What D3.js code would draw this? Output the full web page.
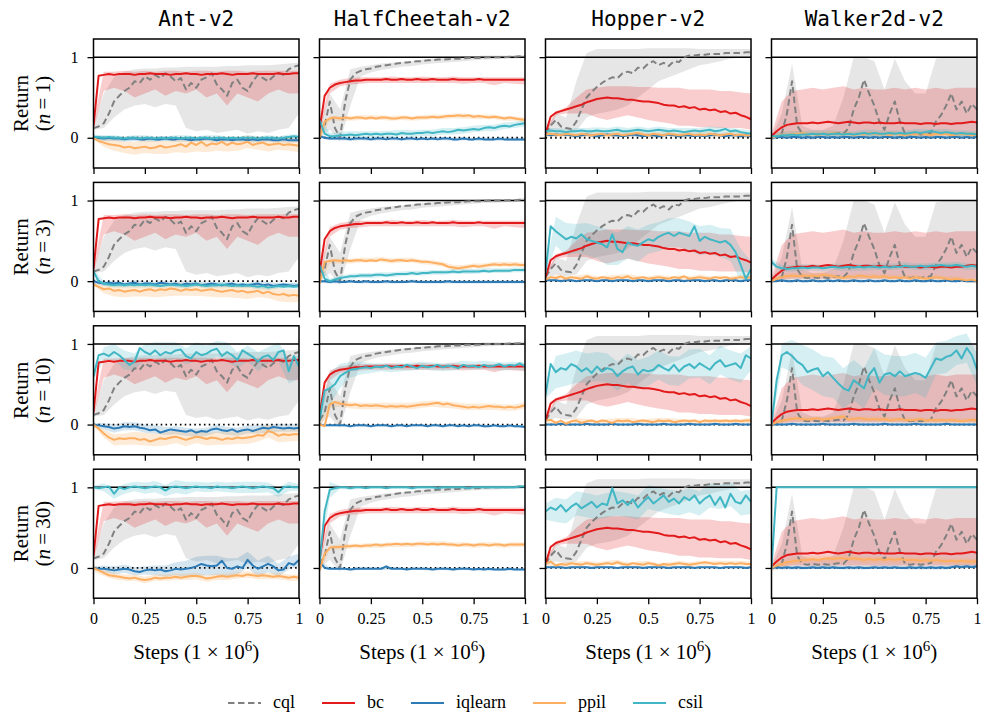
<!DOCTYPE html>
<html><head><meta charset="utf-8">
<script src="https://cdn.jsdelivr.net/npm/d3@7"></script>
<style>body{margin:0;background:#fff}svg{display:block}</style>
</head><body><svg id="c" width="982" height="718"></svg>
<script>
// ---------- categories ----------
const envs = ["Ant-v2","HalfCheetah-v2","Hopper-v2","Walker2d-v2"];
const demos = [1,3,10,30];
const methods = ["cql","bc","iqlearn","ppil","csil"];
const xTicks = [0,0.25,0.5,0.75,1];
const xTickLabels = ["0","0.25","0.5","0.75","1"];
const yTicks = [0,1];
const yTickLabels = ["0","1"];

// ---------- offline baselines (identical for every n) : mean (41 pts), band lo/hi (21 pts) ----------
const ant_cql=[0.12,0.14,0.18,0.3,0.45,0.52,0.58,0.62,0.7,0.68,0.76,0.72,0.78,0.74,0.8,0.76,0.7,0.74,0.6,0.68,0.62,0.72,0.75,0.8,0.66,0.6,0.52,0.68,0.72,0.62,0.58,0.7,0.78,0.74,0.7,0.76,0.8,0.78,0.85,0.88,0.9];
const ant_cql_lo=[0.1,0.12,0.25,0.35,0.4,0.42,0.38,0.42,0.4,0.12,0.08,0.1,0.06,0.08,0.1,0.05,0.08,0.06,0.1,0.12,0.3];
const ant_cql_hi=[0.15,0.55,0.75,0.82,0.85,0.86,0.86,0.87,0.87,0.88,0.88,0.88,0.88,0.89,0.89,0.9,0.9,0.9,0.91,0.92,0.93];
const ant_bc=[0.15,0.77,0.78,0.79,0.78,0.79,0.79,0.79,0.78,0.79,0.79,0.8,0.79,0.79,0.79,0.78,0.79,0.79,0.8,0.79,0.79,0.78,0.79,0.79,0.79,0.8,0.79,0.78,0.79,0.79,0.79,0.8,0.79,0.79,0.79,0.79,0.8,0.79,0.79,0.8,0.8];
const ant_bc_lo=[0.1,0.58,0.62,0.58,0.5,0.55,0.6,0.52,0.58,0.55,0.6,0.5,0.55,0.4,0.55,0.5,0.45,0.55,0.6,0.55,0.55];
const ant_bc_hi=[0.2,0.82,0.82,0.83,0.82,0.83,0.82,0.83,0.83,0.82,0.83,0.83,0.82,0.83,0.83,0.82,0.83,0.83,0.83,0.83,0.83];

const hc_cql=[0.05,0.15,0.45,0.12,0.0,0.45,0.72,0.8,0.83,0.85,0.86,0.88,0.89,0.9,0.91,0.92,0.93,0.935,0.94,0.95,0.95,0.96,0.96,0.97,0.97,0.975,0.98,0.98,0.985,0.99,0.99,0.99,0.995,1.0,1.0,1.0,1.0,1.005,1.005,1.01,1.01];
const hc_cql_lo=[0.0,0.1,-0.05,0.4,0.76,0.81,0.84,0.86,0.88,0.89,0.91,0.92,0.93,0.94,0.95,0.96,0.97,0.97,0.98,0.98,0.99];
const hc_cql_hi=[0.1,0.55,0.35,0.85,0.88,0.9,0.92,0.93,0.94,0.95,0.97,0.98,0.99,1.0,1.01,1.01,1.02,1.02,1.02,1.02,1.03];
const hc_bc=[0.1,0.52,0.62,0.66,0.68,0.69,0.7,0.71,0.71,0.72,0.72,0.72,0.72,0.73,0.72,0.72,0.73,0.72,0.72,0.73,0.72,0.72,0.73,0.72,0.72,0.72,0.73,0.72,0.72,0.72,0.72,0.73,0.72,0.72,0.72,0.72,0.72,0.72,0.72,0.72,0.72];
const hc_bc_lo=[0.05,0.55,0.64,0.66,0.67,0.68,0.68,0.68,0.68,0.68,0.68,0.68,0.68,0.68,0.67,0.68,0.68,0.65,0.68,0.67,0.66];
const hc_bc_hi=[0.15,0.67,0.72,0.74,0.75,0.75,0.75,0.76,0.75,0.75,0.76,0.75,0.75,0.76,0.75,0.75,0.75,0.75,0.75,0.75,0.75];

const hop_cql=[0.05,0.15,0.22,0.14,0.12,0.11,0.2,0.35,0.5,0.57,0.63,0.68,0.72,0.75,0.74,0.8,0.82,0.8,0.87,0.86,0.92,0.95,0.9,0.93,0.89,0.95,0.94,1.0,1.02,1.02,1.03,1.03,1.04,1.04,1.04,1.05,1.05,1.05,1.05,1.06,1.06];
const hop_cql_lo=[0.03,0.08,0.06,0.08,0.25,0.3,0.32,0.35,0.4,0.5,0.6,0.7,0.75,0.8,0.85,0.9,0.92,0.95,0.98,1.0,1.0];
const hop_cql_hi=[0.1,0.3,0.25,0.7,1.05,1.1,1.1,1.1,1.1,1.1,1.11,1.11,1.11,1.11,1.11,1.1,1.1,1.1,1.1,1.1,1.1];
const hop_bc=[0.05,0.26,0.31,0.33,0.35,0.37,0.39,0.41,0.44,0.46,0.48,0.49,0.5,0.49,0.49,0.48,0.47,0.47,0.46,0.45,0.45,0.44,0.43,0.41,0.4,0.4,0.38,0.39,0.37,0.38,0.35,0.36,0.34,0.35,0.32,0.33,0.3,0.31,0.28,0.26,0.23];
const hop_bc_lo=[0.03,0.28,0.3,0.3,0.3,0.25,0.22,0.25,0.28,0.25,0.22,0.2,0.18,0.15,0.15,0.13,0.13,0.12,0.12,0.12,0.1];
const hop_bc_hi=[0.07,0.33,0.38,0.5,0.6,0.62,0.64,0.64,0.64,0.63,0.63,0.62,0.62,0.62,0.6,0.6,0.6,0.58,0.58,0.56,0.55];

const wal_cql=[0.0,0.02,0.05,0.3,0.7,0.15,0.05,0.04,0.05,0.04,0.05,0.04,0.05,0.06,0.05,0.12,0.35,0.5,0.72,0.55,0.4,0.2,0.1,0.3,0.45,0.2,0.05,0.04,0.05,0.04,0.05,0.06,0.2,0.28,0.4,0.55,0.35,0.45,0.3,0.42,0.35];
const wal_cql_lo=[0,0,0,0,0,0,0,0,0,0,0,0,0,0,0,0,0,0,0,0,0];
const wal_cql_hi=[0.02,0.3,0.92,0.15,0.1,0.1,0.15,0.5,1.0,1.0,0.95,0.6,0.98,0.7,0.55,0.55,0.98,1.0,1.0,1.0,1.0];
const wal_bc=[0.02,0.08,0.13,0.16,0.17,0.18,0.18,0.18,0.19,0.18,0.19,0.2,0.19,0.18,0.19,0.2,0.19,0.18,0.19,0.19,0.18,0.19,0.18,0.18,0.18,0.19,0.18,0.18,0.18,0.17,0.18,0.18,0.17,0.18,0.18,0.17,0.18,0.18,0.19,0.2,0.19];
const wal_bc_lo=[0.0,0.02,0.03,0.03,0.03,0.03,0.03,0.03,0.03,0.03,0.03,0.03,0.03,0.03,0.03,0.03,0.03,0.03,0.03,0.03,0.03];
const wal_bc_hi=[0.05,0.45,0.58,0.6,0.62,0.6,0.62,0.64,0.6,0.62,0.6,0.6,0.62,0.6,0.62,0.6,0.62,0.6,0.62,0.62,0.62];

// ---------- band half-widths (21 pts) ----------
const w01=[0.01,0.01,0.01,0.01,0.01,0.01,0.01,0.01,0.01,0.01,0.01,0.01,0.01,0.01,0.01,0.01,0.01,0.01,0.01,0.01,0.01];
const w015=[0.015,0.015,0.015,0.015,0.015,0.015,0.015,0.015,0.015,0.015,0.015,0.015,0.015,0.015,0.015,0.015,0.015,0.015,0.015,0.015,0.015];
const w02=[0.02,0.02,0.02,0.02,0.02,0.02,0.02,0.02,0.02,0.02,0.02,0.02,0.02,0.02,0.02,0.02,0.02,0.02,0.02,0.02,0.02];
const w03=[0.03,0.03,0.03,0.03,0.03,0.03,0.03,0.03,0.03,0.03,0.03,0.03,0.03,0.03,0.03,0.03,0.03,0.03,0.03,0.03,0.03];
const w04=[0.04,0.04,0.04,0.04,0.04,0.04,0.04,0.04,0.04,0.04,0.04,0.04,0.04,0.04,0.04,0.04,0.04,0.04,0.04,0.04,0.04];
const wAntPpil=[0.02,0.05,0.07,0.07,0.08,0.08,0.08,0.08,0.08,0.08,0.08,0.08,0.08,0.08,0.08,0.08,0.08,0.08,0.08,0.08,0.08];

// ---------- n = 1 ----------
const ant1_iql=[0.0,0.0,-0.01,0.0,-0.01,-0.01,-0.02,-0.01,-0.01,-0.02,-0.02,-0.01,-0.02,-0.02,-0.01,-0.02,-0.02,-0.01,-0.02,-0.03,-0.02,-0.02,-0.01,-0.02,-0.03,-0.02,-0.02,-0.03,-0.02,-0.02,-0.03,-0.02,-0.03,-0.02,-0.02,-0.03,-0.03,-0.02,-0.03,-0.03,-0.03];
const ant1_csil=[0.01,0.01,0.0,0.01,0.0,0.0,-0.01,0.0,0.0,-0.01,0.0,0.0,-0.01,0.0,-0.01,0.0,0.0,-0.01,0.0,0.0,-0.01,0.0,0.0,-0.01,0.0,0.0,-0.01,0.0,-0.01,0.0,0.0,0.0,-0.01,0.0,0.0,0.0,-0.01,0.0,0.01,0.02,0.01];
const ant1_ppil=[0.0,-0.04,-0.06,-0.08,-0.09,-0.1,-0.12,-0.11,-0.13,-0.12,-0.11,-0.13,-0.12,-0.1,-0.12,-0.11,-0.1,-0.08,-0.11,-0.06,-0.09,-0.05,-0.1,-0.07,-0.08,-0.05,-0.09,-0.06,-0.08,-0.07,-0.05,-0.09,-0.07,-0.06,-0.09,-0.08,-0.07,-0.09,-0.08,-0.09,-0.1];
const hc1_iql=[0.02,0.0,-0.01,-0.01,-0.01,-0.01,-0.02,-0.01,-0.01,-0.01,-0.02,-0.01,-0.01,-0.02,-0.01,-0.01,-0.02,-0.01,-0.01,-0.02,-0.01,-0.02,-0.01,-0.02,-0.01,-0.01,-0.02,-0.02,-0.01,-0.02,-0.02,-0.01,-0.02,-0.02,-0.02,-0.01,-0.02,-0.02,-0.02,-0.02,-0.02];
const hc1_csil=[0.22,0.05,0.02,0.02,0.03,0.03,0.04,0.03,0.04,0.05,0.04,0.05,0.04,0.05,0.05,0.04,0.06,0.05,0.05,0.06,0.06,0.07,0.06,0.07,0.08,0.07,0.08,0.1,0.09,0.1,0.11,0.1,0.12,0.13,0.12,0.14,0.15,0.14,0.16,0.17,0.18];
const hc1_ppil=[0.0,0.2,0.24,0.25,0.24,0.25,0.24,0.25,0.25,0.24,0.25,0.24,0.25,0.25,0.24,0.24,0.25,0.25,0.24,0.25,0.25,0.25,0.26,0.25,0.26,0.27,0.27,0.28,0.27,0.28,0.26,0.27,0.26,0.25,0.26,0.25,0.24,0.25,0.24,0.23,0.22];
const hop1_iql=[0.04,0.03,0.04,0.03,0.04,0.03,0.02,0.03,0.04,0.03,0.02,0.03,0.04,0.03,0.03,0.02,0.03,0.04,0.03,0.02,0.03,0.03,0.02,0.03,0.04,0.03,0.02,0.03,0.03,0.02,0.03,0.02,0.03,0.04,0.03,0.02,0.03,0.03,0.02,0.03,0.02];
const hop1_ppil=[0.04,0.05,0.04,0.03,0.05,0.04,0.03,0.05,0.04,0.03,0.04,0.05,0.03,0.04,0.05,0.03,0.04,0.05,0.06,0.04,0.03,0.05,0.04,0.03,0.05,0.04,0.03,0.04,0.05,0.03,0.04,0.03,0.05,0.04,0.03,0.04,0.05,0.03,0.04,0.03,0.03];
const hop1_csil=[0.08,0.09,0.08,0.08,0.07,0.08,0.08,0.09,0.08,0.08,0.09,0.08,0.08,0.09,0.1,0.08,0.08,0.09,0.1,0.09,0.08,0.09,0.1,0.09,0.08,0.09,0.08,0.07,0.08,0.09,0.08,0.09,0.1,0.08,0.09,0.11,0.08,0.09,0.07,0.06,0.05];
const wal1_iql=[0.0,0.01,0.01,0.0,0.01,0.01,0.0,0.01,0.0,0.01,0.01,0.0,0.01,0.0,0.01,0.01,0.0,0.01,0.01,0.0,0.01,0.0,0.01,0.01,0.0,0.01,0.0,0.01,0.01,0.0,0.01,0.0,0.01,0.01,0.0,0.01,0.01,0.0,0.01,0.0,0.01];
const wal1_ppil=[0.0,0.02,0.04,0.03,0.05,0.04,0.06,0.04,0.05,0.03,0.05,0.04,0.06,0.05,0.04,0.06,0.03,0.05,0.04,0.06,0.05,0.04,0.05,0.03,0.05,0.04,0.03,0.05,0.04,0.06,0.04,0.03,0.05,0.04,0.05,0.03,0.04,0.05,0.04,0.03,0.04];
const wal1_csil=[0.02,0.02,0.03,0.03,0.04,0.03,0.04,0.04,0.05,0.04,0.05,0.04,0.05,0.05,0.04,0.05,0.04,0.05,0.06,0.05,0.06,0.05,0.05,0.06,0.05,0.06,0.05,0.06,0.07,0.06,0.07,0.08,0.07,0.06,0.07,0.06,0.05,0.06,0.05,0.05,0.04];

// ---------- n = 3 ----------
const ant3_iql=[0.0,-0.02,-0.03,-0.02,-0.03,-0.02,-0.04,-0.03,-0.02,-0.04,-0.03,-0.03,-0.04,-0.02,-0.03,-0.04,-0.03,-0.05,-0.03,-0.04,-0.03,-0.05,-0.04,-0.03,-0.04,-0.05,-0.04,-0.03,-0.05,-0.04,-0.05,-0.04,-0.03,-0.05,-0.04,-0.06,-0.05,-0.04,-0.05,-0.06,-0.05];
const ant3_csil=[0.12,0.0,-0.03,-0.04,-0.05,-0.04,-0.05,-0.04,-0.05,-0.04,-0.05,-0.04,-0.05,-0.06,-0.05,-0.04,-0.05,-0.05,-0.06,-0.05,-0.04,-0.05,-0.06,-0.05,-0.05,-0.04,-0.05,-0.06,-0.05,-0.06,-0.05,-0.06,-0.07,-0.06,-0.08,-0.07,-0.06,-0.07,-0.06,-0.07,-0.06];
const ant3_ppil=[-0.04,-0.07,-0.1,-0.09,-0.12,-0.11,-0.13,-0.12,-0.11,-0.13,-0.11,-0.1,-0.12,-0.1,-0.11,-0.09,-0.1,-0.12,-0.1,-0.11,-0.1,-0.12,-0.11,-0.1,-0.12,-0.13,-0.12,-0.11,-0.13,-0.12,-0.14,-0.13,-0.12,-0.15,-0.13,-0.16,-0.17,-0.16,-0.18,-0.17,-0.18];
const hc3_iql=[0.0,0.0,-0.01,0.0,-0.01,-0.01,0.0,-0.01,-0.01,0.0,-0.01,-0.01,-0.01,0.0,-0.01,-0.01,-0.01,-0.01,0.0,-0.01,-0.01,-0.01,-0.01,-0.01,-0.01,0.0,-0.01,-0.01,-0.01,-0.01,-0.01,-0.01,-0.01,-0.01,-0.01,-0.01,-0.01,-0.01,-0.01,-0.01,-0.01];
const hc3_csil=[0.2,0.03,0.0,0.02,0.04,0.05,0.06,0.06,0.07,0.07,0.07,0.08,0.08,0.07,0.08,0.09,0.09,0.09,0.1,0.09,0.1,0.1,0.11,0.11,0.11,0.11,0.12,0.11,0.12,0.12,0.12,0.12,0.13,0.12,0.13,0.13,0.13,0.13,0.14,0.14,0.14];
const hc3_ppil=[-0.03,0.24,0.25,0.26,0.25,0.26,0.25,0.26,0.26,0.25,0.26,0.25,0.27,0.26,0.25,0.26,0.26,0.25,0.26,0.25,0.24,0.24,0.23,0.22,0.21,0.18,0.17,0.16,0.17,0.18,0.19,0.18,0.19,0.2,0.21,0.2,0.21,0.2,0.21,0.2,0.2];
const hop3_iql=[0.01,0.01,0.01,0.0,0.01,0.01,0.0,0.01,0.01,0.01,0.0,0.01,0.01,0.0,0.01,0.01,0.01,0.0,0.01,0.01,0.0,0.01,0.01,0.01,0.0,0.01,0.01,0.0,0.01,0.01,0.01,0.0,0.01,0.01,0.0,0.01,0.01,0.01,0.0,0.01,0.01];
const hop3_ppil=[0.02,0.05,0.04,0.06,0.03,0.05,0.04,0.03,0.06,0.04,0.03,0.05,0.04,0.03,0.05,0.04,0.06,0.03,0.04,0.05,0.03,0.04,0.05,0.04,0.03,0.05,0.04,0.06,0.03,0.04,0.05,0.04,0.03,0.05,0.04,0.05,0.03,0.04,0.05,0.04,0.05];
const hop3_csil=[0.1,0.68,0.62,0.57,0.52,0.55,0.53,0.58,0.52,0.5,0.48,0.46,0.42,0.58,0.4,0.36,0.48,0.45,0.44,0.48,0.52,0.5,0.55,0.58,0.6,0.56,0.6,0.58,0.56,0.68,0.5,0.55,0.52,0.5,0.48,0.5,0.45,0.36,0.2,0.03,0.15];
const hop3_csil_w=[0.05,0.18,0.2,0.18,0.2,0.2,0.22,0.2,0.2,0.2,0.18,0.18,0.18,0.18,0.18,0.18,0.18,0.18,0.2,0.2,0.1];
const wal3_iql=[0.0,0.0,0.01,0.0,0.0,0.01,0.0,0.0,0.01,0.0,0.0,0.01,0.0,0.01,0.0,0.0,0.01,0.0,0.0,0.01,0.0,0.0,0.01,0.0,0.0,0.01,0.0,0.0,0.01,0.0,0.0,0.01,0.0,0.0,0.01,0.0,0.0,0.01,0.0,0.0,0.0];
const wal3_ppil=[0.0,0.03,0.05,0.06,0.07,0.06,0.07,0.06,0.07,0.06,0.08,0.07,0.06,0.05,0.04,0.06,0.05,0.07,0.06,0.05,0.06,0.05,0.06,0.04,0.05,0.04,0.05,0.03,0.05,0.04,0.03,0.04,0.05,0.04,0.03,0.02,0.03,0.02,0.01,0.02,0.0];
const wal3_csil=[0.24,0.18,0.16,0.15,0.16,0.16,0.17,0.16,0.17,0.17,0.16,0.17,0.18,0.17,0.17,0.18,0.17,0.18,0.17,0.18,0.18,0.17,0.18,0.17,0.18,0.18,0.19,0.18,0.18,0.19,0.18,0.19,0.19,0.2,0.19,0.19,0.2,0.19,0.18,0.19,0.18];

// ---------- n = 10 ----------
const ant10_iql=[0.0,-0.01,-0.02,-0.03,-0.05,-0.04,-0.02,-0.03,-0.02,-0.04,-0.05,-0.07,-0.06,-0.1,-0.08,-0.06,-0.07,-0.08,-0.09,-0.07,-0.1,-0.08,-0.09,-0.06,-0.05,-0.07,-0.08,-0.06,-0.09,-0.07,-0.06,-0.08,-0.06,-0.04,-0.05,-0.03,-0.04,-0.05,-0.04,-0.05,-0.04];
const ant10_ppil=[0.0,-0.05,-0.11,-0.16,-0.19,-0.17,-0.18,-0.17,-0.17,-0.19,-0.18,-0.21,-0.19,-0.17,-0.18,-0.16,-0.15,-0.17,-0.19,-0.17,-0.15,-0.16,-0.18,-0.16,-0.17,-0.19,-0.17,-0.18,-0.16,-0.17,-0.16,-0.15,-0.13,-0.14,-0.08,-0.1,-0.14,-0.12,-0.13,-0.12,-0.12];
const ant10_csil=[0.6,0.86,0.88,0.85,0.9,0.86,0.8,0.74,0.78,0.95,0.9,0.87,0.92,0.86,0.9,0.88,0.92,0.93,0.85,0.82,0.9,0.86,0.88,0.92,0.94,0.85,0.9,0.86,0.8,0.92,0.88,0.84,0.78,0.84,0.86,0.8,0.9,0.92,0.66,0.85,0.72];
const ant10_csil_w=[0.05,0.08,0.1,0.12,0.1,0.1,0.1,0.12,0.1,0.1,0.12,0.1,0.1,0.12,0.1,0.1,0.12,0.1,0.12,0.15,0.15];
const ant10_iql_w=[0.02,0.04,0.05,0.05,0.05,0.05,0.05,0.05,0.05,0.05,0.05,0.05,0.05,0.05,0.05,0.05,0.05,0.05,0.05,0.05,0.05];
const hc10_iql=[0.0,-0.01,-0.01,-0.01,-0.01,-0.01,-0.02,-0.01,-0.01,-0.01,-0.02,-0.01,-0.01,-0.01,-0.02,-0.01,-0.01,-0.02,-0.01,-0.01,-0.01,-0.02,-0.01,-0.01,-0.02,-0.01,-0.01,-0.02,-0.01,-0.02,-0.01,-0.01,-0.02,-0.02,-0.01,-0.02,-0.02,-0.01,-0.02,-0.02,-0.03];
const hc10_ppil=[0.0,-0.02,0.25,0.28,0.26,0.25,0.24,0.25,0.23,0.24,0.23,0.24,0.23,0.22,0.23,0.22,0.23,0.22,0.23,0.24,0.25,0.25,0.26,0.27,0.25,0.26,0.24,0.23,0.22,0.21,0.22,0.21,0.22,0.23,0.22,0.22,0.21,0.22,0.21,0.22,0.24];
const hc10_csil=[0.05,0.42,0.45,0.5,0.6,0.64,0.68,0.69,0.7,0.71,0.7,0.72,0.71,0.73,0.7,0.72,0.71,0.74,0.72,0.7,0.73,0.71,0.72,0.74,0.71,0.73,0.72,0.7,0.74,0.72,0.73,0.71,0.74,0.72,0.73,0.75,0.72,0.74,0.73,0.76,0.72];
const hc10_csil_w=[0.02,0.2,0.15,0.1,0.08,0.06,0.05,0.05,0.05,0.05,0.05,0.05,0.05,0.05,0.05,0.05,0.05,0.05,0.05,0.05,0.05];
const hop10_iql=[0.0,0.0,0.0,0.01,0.0,0.0,0.0,0.0,0.01,0.0,0.0,0.0,0.0,0.01,0.0,0.0,0.0,0.0,0.01,0.0,0.0,0.0,0.0,0.01,0.0,0.0,0.0,0.0,0.01,0.0,0.0,0.0,0.0,0.01,0.0,0.0,0.0,0.01,0.0,0.0,0.0];
const hop10_ppil=[0.05,0.06,0.02,0.05,0.01,0.04,0.05,0.02,0.04,0.05,0.03,0.05,0.04,0.02,0.05,0.04,0.05,0.03,0.04,0.05,0.04,0.03,0.05,0.04,0.05,0.03,0.04,0.05,0.04,0.05,0.03,0.05,0.04,0.05,0.04,0.05,0.04,0.05,0.04,0.05,0.05];
const hop10_csil=[0.37,0.75,0.65,0.7,0.68,0.75,0.72,0.66,0.7,0.64,0.72,0.66,0.7,0.68,0.6,0.66,0.7,0.72,0.62,0.68,0.66,0.68,0.74,0.7,0.67,0.74,0.66,0.72,0.75,0.7,0.76,0.72,0.68,0.76,0.8,0.72,0.74,0.76,0.7,0.86,0.82];
const hop10_csil_w=[0.05,0.2,0.2,0.2,0.18,0.18,0.18,0.18,0.18,0.18,0.18,0.18,0.18,0.18,0.18,0.18,0.18,0.18,0.18,0.18,0.15];
const wal10_iql=[0.0,0.0,0.0,0.0,0.01,0.0,0.0,0.0,0.0,0.0,0.01,0.0,0.0,0.0,0.0,0.0,0.01,0.0,0.0,0.0,0.0,0.0,0.01,0.0,0.0,0.0,0.0,0.0,0.01,0.0,0.0,0.0,0.0,0.0,0.01,0.0,0.0,0.0,0.0,0.0,0.0];
const wal10_ppil=[0.0,0.03,0.05,0.06,0.07,0.08,0.07,0.06,0.07,0.08,0.06,0.07,0.08,0.09,0.1,0.06,0.07,0.08,0.07,0.06,0.07,0.06,0.07,0.05,0.06,0.07,0.06,0.05,0.06,0.07,0.05,0.06,0.05,0.06,0.05,0.06,0.05,0.04,0.05,0.06,0.05];
const wal10_csil=[0.0,0.55,0.86,0.9,0.85,0.78,0.74,0.65,0.68,0.7,0.6,0.65,0.58,0.51,0.45,0.42,0.55,0.5,0.45,0.62,0.7,0.52,0.62,0.64,0.6,0.66,0.6,0.62,0.64,0.62,0.58,0.7,0.82,0.8,0.84,0.86,0.92,0.82,0.95,0.86,0.68];
const wal10_csil_w=[0.02,0.15,0.2,0.25,0.25,0.25,0.25,0.25,0.25,0.25,0.25,0.25,0.25,0.25,0.25,0.25,0.2,0.2,0.18,0.18,0.2];

// ---------- n = 30 ----------
const ant30_iql=[0.0,-0.01,-0.01,-0.02,-0.03,-0.02,-0.01,-0.02,-0.04,-0.05,-0.03,-0.02,-0.03,-0.02,-0.04,-0.03,-0.01,-0.02,-0.01,0.0,0.02,0.05,0.03,0.02,0.03,0.09,0.0,-0.01,0.02,0.0,0.1,0.03,-0.01,0.02,0.05,0.02,-0.03,-0.02,0.06,0.04,0.1];
const ant30_iql_w=[0.02,0.04,0.05,0.05,0.05,0.05,0.06,0.07,0.08,0.1,0.12,0.12,0.12,0.12,0.1,0.1,0.1,0.1,0.08,0.08,0.08];
const ant30_ppil=[0.0,-0.03,-0.06,-0.09,-0.1,-0.11,-0.12,-0.13,-0.12,-0.14,-0.15,-0.14,-0.12,-0.13,-0.12,-0.12,-0.11,-0.12,-0.11,-0.1,-0.1,-0.11,-0.13,-0.12,-0.11,-0.1,-0.11,-0.1,-0.09,-0.1,-0.08,-0.09,-0.1,-0.09,-0.1,-0.11,-0.1,-0.11,-0.12,-0.11,-0.12];
const ant30_csil=[1.0,0.99,1.0,1.01,0.92,1.0,0.98,1.0,1.01,1.0,0.99,1.0,1.01,1.0,0.96,1.0,1.01,1.0,0.99,1.0,1.01,1.0,1.0,0.99,1.01,1.0,1.0,0.99,1.0,1.01,1.0,0.99,1.0,1.01,1.0,0.99,0.94,1.0,1.01,1.0,1.0];
const ant30_csil_w=[0.02,0.05,0.06,0.06,0.06,0.07,0.07,0.07,0.08,0.08,0.06,0.06,0.06,0.06,0.07,0.07,0.07,0.06,0.06,0.06,0.04];
const hc30_iql=[0.08,0.0,-0.01,-0.01,-0.01,-0.01,-0.02,-0.01,-0.01,-0.01,-0.01,-0.01,-0.01,0.02,-0.01,-0.01,-0.01,-0.02,-0.01,-0.01,-0.01,-0.01,-0.02,-0.01,-0.01,-0.01,-0.02,-0.01,-0.01,-0.01,-0.02,-0.01,-0.02,-0.01,-0.02,-0.02,-0.02,-0.01,-0.02,-0.02,-0.02];
const hc30_ppil=[-0.03,0.18,0.25,0.26,0.26,0.27,0.27,0.28,0.27,0.28,0.28,0.29,0.28,0.29,0.29,0.3,0.29,0.3,0.29,0.3,0.3,0.29,0.3,0.29,0.3,0.29,0.29,0.28,0.29,0.29,0.28,0.29,0.29,0.28,0.29,0.29,0.28,0.29,0.29,0.29,0.29];
const hc30_csil=[0.05,0.7,0.97,0.99,1.0,1.0,0.99,1.0,1.0,0.99,1.0,1.0,1.0,0.99,1.0,1.0,1.0,1.0,0.99,1.0,1.0,1.0,1.0,0.99,1.0,1.0,1.0,1.0,1.0,0.99,1.0,1.0,1.0,1.0,1.0,1.0,1.0,1.0,1.0,1.01,1.01];
const hc30_csil_w=[0.02,0.1,0.02,0.02,0.02,0.02,0.02,0.02,0.02,0.02,0.02,0.02,0.02,0.02,0.02,0.02,0.02,0.02,0.02,0.02,0.02];
const hop30_iql=[0.01,0.01,0.01,0.01,0.0,0.01,0.01,0.01,0.01,0.0,0.01,0.01,0.01,0.01,0.0,0.01,0.01,0.01,0.01,0.0,0.01,0.01,0.01,0.01,0.0,0.01,0.01,0.01,0.01,0.0,0.01,0.01,0.01,0.01,0.0,0.01,0.01,0.01,0.01,0.0,0.01];
const hop30_ppil=[0.05,0.08,0.03,0.05,0.04,0.06,0.05,0.04,0.06,0.05,0.04,0.05,0.06,0.05,0.07,0.05,0.04,0.06,0.05,0.04,0.06,0.05,0.03,0.05,0.04,0.05,0.06,0.05,0.04,0.05,0.06,0.07,0.06,0.05,0.06,0.05,0.06,0.05,0.06,0.05,0.05];
const hop30_csil=[0.7,0.75,0.72,0.78,0.7,0.76,0.8,0.74,0.78,0.82,0.75,0.8,0.78,0.99,0.8,0.84,0.78,0.85,0.75,0.82,0.88,0.8,0.85,0.9,0.82,0.86,0.8,0.88,0.84,0.9,0.8,0.86,0.9,0.78,0.88,0.75,0.92,0.82,0.8,0.9,0.82];
const hop30_csil_w=[0.1,0.15,0.15,0.15,0.15,0.15,0.15,0.15,0.15,0.15,0.15,0.15,0.15,0.15,0.15,0.15,0.15,0.15,0.15,0.15,0.15];
const wal30_iql=[0.0,0.01,0.0,0.01,0.0,0.01,0.0,0.0,0.01,0.0,0.01,0.0,0.01,0.0,0.0,0.01,0.0,0.01,0.0,0.0,0.01,0.0,0.01,0.0,0.01,0.0,0.0,0.01,0.0,0.01,0.0,0.01,0.0,0.01,0.0,0.01,0.02,0.01,0.02,0.01,0.02];
const wal30_ppil=[0.0,0.03,0.05,0.07,0.08,0.09,0.1,0.1,0.11,0.1,0.11,0.12,0.11,0.12,0.12,0.11,0.12,0.11,0.1,0.11,0.1,0.11,0.1,0.11,0.1,0.11,0.1,0.1,0.1,0.09,0.1,0.09,0.1,0.09,0.08,0.09,0.08,0.09,0.08,0.08,0.08];
const wal30_csil=[0.0,1.0,1.0,1.0,1.0,1.0,1.0,1.0,1.0,1.0,1.0,1.0,1.0,1.0,1.0,1.0,1.0,1.0,1.0,1.0,1.0,1.0,1.0,1.0,1.0,1.0,1.0,1.0,1.0,1.0,1.0,1.0,1.0,1.0,1.0,1.0,1.0,1.0,1.0,1.0,1.0];

// ---------- assemble tables ----------
const offline = {
  "Ant-v2":{cql:[ant_cql,ant_cql_lo,ant_cql_hi],bc:[ant_bc,ant_bc_lo,ant_bc_hi]},
  "HalfCheetah-v2":{cql:[hc_cql,hc_cql_lo,hc_cql_hi],bc:[hc_bc,hc_bc_lo,hc_bc_hi]},
  "Hopper-v2":{cql:[hop_cql,hop_cql_lo,hop_cql_hi],bc:[hop_bc,hop_bc_lo,hop_bc_hi]},
  "Walker2d-v2":{cql:[wal_cql,wal_cql_lo,wal_cql_hi],bc:[wal_bc,wal_bc_lo,wal_bc_hi]}
};
const online = {
  "Ant-v2":[
    {iqlearn:[ant1_iql,w03],ppil:[ant1_ppil,wAntPpil],csil:[ant1_csil,w03]},
    {iqlearn:[ant3_iql,w03],ppil:[ant3_ppil,wAntPpil],csil:[ant3_csil,w03]},
    {iqlearn:[ant10_iql,ant10_iql_w],ppil:[ant10_ppil,wAntPpil],csil:[ant10_csil,ant10_csil_w]},
    {iqlearn:[ant30_iql,ant30_iql_w],ppil:[ant30_ppil,w04],csil:[ant30_csil,ant30_csil_w]}],
  "HalfCheetah-v2":[
    {iqlearn:[hc1_iql,w02],ppil:[hc1_ppil,w03],csil:[hc1_csil,w04]},
    {iqlearn:[hc3_iql,w02],ppil:[hc3_ppil,w03],csil:[hc3_csil,w03]},
    {iqlearn:[hc10_iql,w015],ppil:[hc10_ppil,w04],csil:[hc10_csil,hc10_csil_w]},
    {iqlearn:[hc30_iql,w015],ppil:[hc30_ppil,w03],csil:[hc30_csil,hc30_csil_w]}],
  "Hopper-v2":[
    {iqlearn:[hop1_iql,w02],ppil:[hop1_ppil,w03],csil:[hop1_csil,w04]},
    {iqlearn:[hop3_iql,w01],ppil:[hop3_ppil,w03],csil:[hop3_csil,hop3_csil_w]},
    {iqlearn:[hop10_iql,w01],ppil:[hop10_ppil,w03],csil:[hop10_csil,hop10_csil_w]},
    {iqlearn:[hop30_iql,w01],ppil:[hop30_ppil,w03],csil:[hop30_csil,hop30_csil_w]}],
  "Walker2d-v2":[
    {iqlearn:[wal1_iql,w02],ppil:[wal1_ppil,w03],csil:[wal1_csil,w04]},
    {iqlearn:[wal3_iql,w015],ppil:[wal3_ppil,w03],csil:[wal3_csil,w04]},
    {iqlearn:[wal10_iql,w01],ppil:[wal10_ppil,w03],csil:[wal10_csil,wal10_csil_w]},
    {iqlearn:[wal30_iql,w02],ppil:[wal30_ppil,w04],csil:[wal30_csil,w01]}]
};

// ---------- style ----------
const colors = {cql:"#808080", bc:"#e31a1c", iqlearn:"#2c7bb6", ppil:"#fdae61", csil:"#41b6c4"};
const bandAlpha = {cql:0.2, bc:0.22, iqlearn:0.2, ppil:0.25, csil:0.22};
const SERIF = "'Liberation Serif','DejaVu Serif',serif";
const MONO = "'DejaVu Sans Mono','Liberation Mono',monospace";

const W = 205.5, H = 129;
const left0 = 93.5, colStep = 226, top0 = 39, rowStep = 143.4;

const svg = d3.select("#c");
const x = d3.scaleLinear().domain([0,1]).range([0,W]);
const y = d3.scaleLinear().domain([-0.375,1.225]).range([H,0]);
const lineGen = d3.line().x((d,i,a)=>x(i/(a.length-1))).y(d=>y(d));
const areaGen = d3.area().x(d=>x(d.x)).y0(d=>y(d.lo)).y1(d=>y(d.hi));

function bandPoints(mean, a, b){
  if (b) return a.map((lo,i)=>({x:i/(a.length-1), lo:lo, hi:b[i]}));
  const step = (mean.length-1)/(a.length-1);
  return a.map((w,i)=>({x:i/(a.length-1), lo:mean[i*step]-w, hi:mean[i*step]+w}));
}

envs.forEach((env,c)=>{
  demos.forEach((n,r)=>{
    const g = svg.append("g").attr("transform",`translate(${left0+c*colStep},${top0+r*rowStep})`);
    const cid = `clip-${c}-${r}`;
    g.append("clipPath").attr("id",cid).append("rect").attr("width",W).attr("height",H);
    const plot = g.append("g").attr("clip-path",`url(#${cid})`);
    const series = methods.map(m=>{
      if (m==="cql"||m==="bc"){ const s=offline[env][m]; return {m, mean:s[0], band:bandPoints(s[0],s[1],s[2])}; }
      const s=online[env][r][m]; return {m, mean:s[0], band:bandPoints(s[0],s[1])};
    });
    series.forEach(s=>{
      plot.append("path").attr("d",areaGen(s.band)).attr("fill",colors[s.m]).attr("fill-opacity",bandAlpha[s.m]).attr("stroke","none");
    });
    plot.append("line").attr("x1",0).attr("x2",W).attr("y1",y(1)).attr("y2",y(1)).attr("stroke","#000").attr("stroke-width",1.5);
    plot.append("line").attr("x1",0).attr("x2",W).attr("y1",y(0)).attr("y2",y(0)).attr("stroke","#000").attr("stroke-width",1.8).attr("stroke-dasharray","1.6,3.2");
    series.forEach(s=>{
      plot.append("path").attr("d",lineGen(s.mean)).attr("fill","none").attr("stroke",colors[s.m])
        .attr("stroke-width",2).attr("stroke-linejoin","round")
        .attr("stroke-dasharray", s.m==="cql" ? "6.5,3.5" : null);
    });
    const xa = d3.axisBottom(x).tickValues(xTicks).tickSize(6).tickPadding(8)
      .tickFormat((d,i)=> r===demos.length-1 ? xTickLabels[i] : "");
    const gx = g.append("g").attr("transform",`translate(0,${H})`).call(xa);
    const ya = d3.axisLeft(y).tickValues(yTicks).tickSize(6).tickPadding(9)
      .tickFormat((d,i)=> c===0 ? yTickLabels[i] : "");
    const gy = g.append("g").call(ya);
    [gx,gy].forEach(ax=>{
      ax.select(".domain").remove();
      ax.selectAll(".tick line").attr("stroke","#000").attr("stroke-width",1.3);
      ax.selectAll(".tick text").attr("fill","#000").style("font-family",SERIF).style("font-size","16px");
    });
    g.append("rect").attr("width",W).attr("height",H).attr("fill","none").attr("stroke","#000").attr("stroke-width",1.5);
  });
});

envs.forEach((env,c)=>{
  svg.append("text").attr("x",left0+c*colStep+W/2).attr("y",26).attr("text-anchor","middle")
    .style("font-family",MONO).style("font-size","21px").text(env);
  const t = svg.append("text").attr("x",left0+c*colStep+W/2).attr("y",659).attr("text-anchor","middle")
    .style("font-family",SERIF).style("font-size","21px");
  t.append("tspan").text("Steps (1 \u00d7 10");
  t.append("tspan").attr("dy",-8).style("font-size","15px").text("6");
  t.append("tspan").attr("dy",8).text(")");
});
demos.forEach((n,r)=>{
  const cy = top0+r*rowStep+H/2;
  svg.append("text").attr("transform",`translate(28,${cy}) rotate(-90)`).attr("text-anchor","middle")
    .style("font-family",SERIF).style("font-size","21px").text("Return");
  const t = svg.append("text").attr("transform",`translate(50,${cy}) rotate(-90)`).attr("text-anchor","middle")
    .style("font-family",SERIF).style("font-size","21px");
  t.append("tspan").text("(");
  t.append("tspan").style("font-style","italic").text("n");
  t.append("tspan").text("\u2009=\u2009" + n + ")");
});
let lx = 228; const ly = 703;
methods.forEach(m=>{
  svg.append("line").attr("x1",lx).attr("x2",lx+33).attr("y1",ly).attr("y2",ly).attr("stroke",colors[m])
    .attr("stroke-width",2).attr("stroke-dasharray", m==="cql" ? "6.5,3.5" : null);
  const t = svg.append("text").attr("x",lx+45).attr("y",ly+5).style("font-family",SERIF).style("font-size","18px").text(m);
  lx = lx + 45 + t.node().getComputedTextLength() + 27;
});
</script></body></html>
